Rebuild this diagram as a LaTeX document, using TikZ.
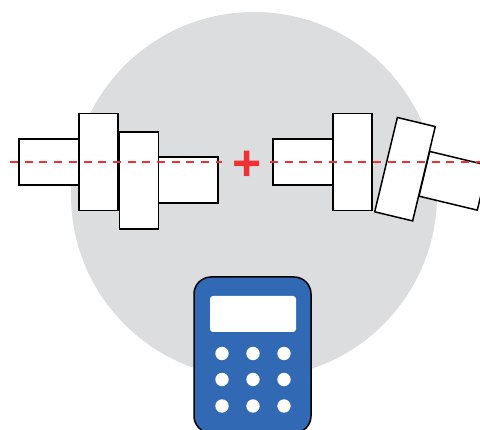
\documentclass[tikz,border=0pt]{standalone}
\usepackage{tikz}
\usepackage{fontspec}
\newfontfamily\plusfont{Liberation Sans}
\definecolor{DiscGray}{RGB}{220,221,223}
\definecolor{AxisRed}{RGB}{238,49,50}
\definecolor{CalcBlue}{RGB}{49,105,180}
\tikzset{
  shaft/.style={draw=black,fill=white,line width=1.5pt,inner sep=0pt,minimum width=60pt,minimum height=46pt},
  gear/.style={draw=black,fill=white,line width=1.5pt,inner sep=0pt,minimum width=39pt,minimum height=97pt},
  axis/.style={draw=AxisRed,line width=1.8pt,dash pattern=on 8pt off 6.7pt},
  calckey/.style={circle,fill=white,inner sep=0pt,minimum size=13.4pt}
}

\begin{document}
\begin{tikzpicture}[x=1pt,y=-1pt]
\clip (0,0) rectangle (480,430);
\node[circle,fill=DiscGray,inner sep=0pt,minimum size=366pt] (disc) at (254,195) {};
% left pair
\node[shaft] (a) at (49,162) {};
\node[gear] (b) at (98.5,162) {};
\node[shaft] (d) at (188.2,180.2) {};
\node[gear] (c) at (139,180.5) {};
% right pair
\node[shaft] (e) at (303,162) {};
\node[gear] (f) at (352.5,162) {};
\node[shaft,rotate=-13.5] (h) at (453.5,180.8) {};
\node[gear,rotate=-13.5] (g) at (405,169.2) {};
% axis
\coordinate (axisa) at (10,162.3);
\coordinate (axisb) at (222,162.3);
\coordinate (axisc) at (270,162.3);
\coordinate (axisd) at (480,162.3);
\draw[axis] (axisa) -- (axisb);
\draw[axis] (axisc) -- (axisd);
\node[text=AxisRed,inner sep=0pt,font=\plusfont\bfseries\fontsize{50}{50}\selectfont] (plus) at (247,165.5) {+};
% calculator
\node[draw=black,fill=CalcBlue,line width=1.5pt,rounded corners=17pt,inner sep=0pt,minimum width=117pt,minimum height=156pt] (calc) at (252.5,355) {};
\node[fill=white,rounded corners=3pt,inner sep=0pt,minimum width=86pt,minimum height=36pt] (screen) at (253,314) {};
\foreach \i/\x in {1/222,2/253,3/284}
  \foreach \j/\y in {1/353.5,2/379.5,3/406}
    \node[calckey] (key\i\j) at (\x,\y) {};
\end{tikzpicture}
\end{document}
